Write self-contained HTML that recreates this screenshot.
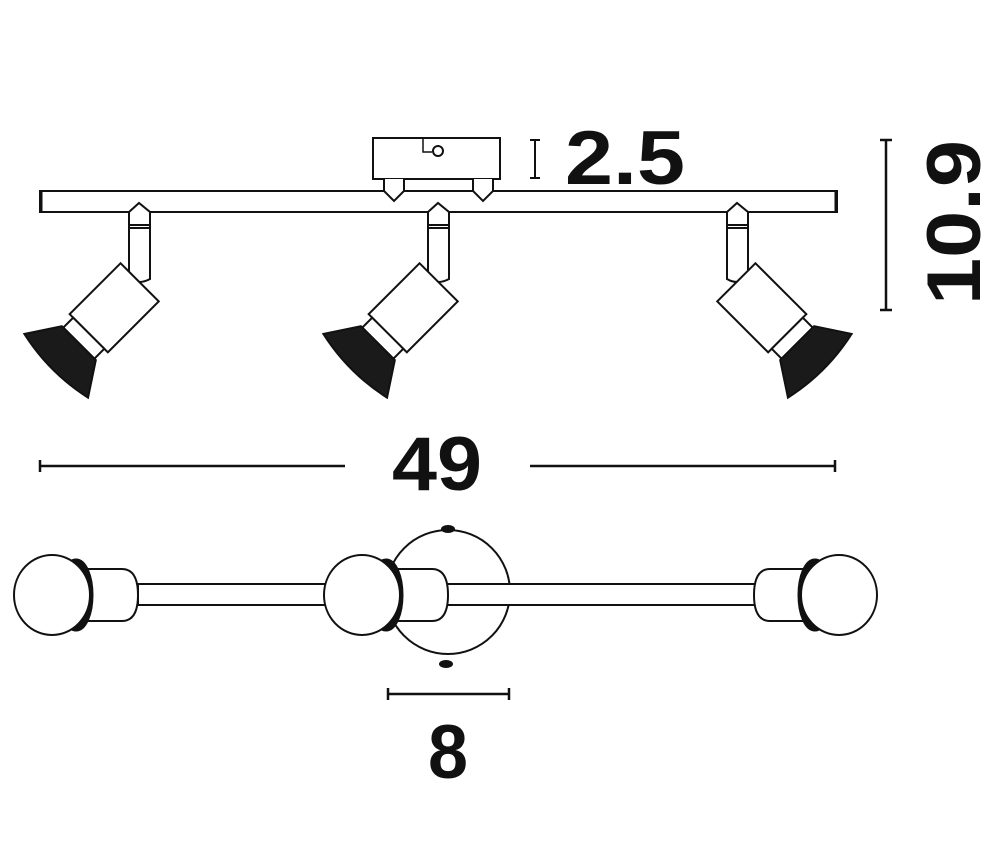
<!DOCTYPE html>
<html><head><meta charset="utf-8"><style>
html,body{margin:0;padding:0;background:#fff;}
svg{display:block;}
text{font-family:"Liberation Sans",Arial,sans-serif;font-weight:bold;fill:#111;}
</style></head><body>
<svg width="1000" height="855" viewBox="0 0 1000 855" xmlns="http://www.w3.org/2000/svg">
<defs>
<g id="spot" stroke="#111" stroke-width="2" fill="#fff">
  <rect x="-8" y="-27" width="72" height="54"/>
  <rect x="64" y="-22" width="14" height="44"/>
  <path d="M78,-24 L78,24 L110,45 Q120,0 110,-45 Z" fill="#1a1a1a"/>
</g>
<g id="stem" stroke="#111" stroke-width="2" fill="#fff">
  <path d="M0,11 L10,2 L21,11 L21,78 Q10,84 0,78 Z"/>
  <line x1="0" y1="24" x2="21" y2="24"/>
  <line x1="0" y1="27" x2="21" y2="27"/>
</g>
</defs>
<!-- top view -->
<rect x="373" y="138" width="127" height="41" fill="#fff" stroke="#111" stroke-width="2"/>
<circle cx="438" cy="151" r="5" fill="#fff" stroke="#111" stroke-width="2"/>
<path d="M423,138 V152 H432" fill="none" stroke="#111" stroke-width="1.5"/>
<rect x="40" y="191" width="797" height="21" fill="#fff" stroke="#111" stroke-width="2"/>
<line x1="41" y1="192" x2="41" y2="211" stroke="#111" stroke-width="3"/>
<line x1="836" y1="192" x2="836" y2="211" stroke="#111" stroke-width="3"/>
<path d="M384,179 V191 L394,201 L404,191 V179" fill="#fff" stroke="#111" stroke-width="2"/>
<path d="M473,179 V191 L483,201 L493,191 V179" fill="#fff" stroke="#111" stroke-width="2"/>
<use href="#stem" x="129" y="201"/>
<use href="#stem" x="428" y="201"/>
<use href="#stem" x="727" y="201"/>
<use href="#spot" transform="translate(134,288) rotate(135)"/>
<use href="#spot" transform="translate(433,288) rotate(135)"/>
<use href="#spot" transform="translate(742,288) rotate(45)"/>
<!-- 2.5 -->
<path d="M530,140 H540 M535,140 V178 M530,178 H540" stroke="#111" stroke-width="2" fill="none"/>
<text x="565" y="184" font-size="76" textLength="120" lengthAdjust="spacingAndGlyphs">2.5</text>
<!-- 10.9 -->
<path d="M880,140 H892 M886,140 V310 M880,310 H892" stroke="#111" stroke-width="2.5" fill="none"/>
<text x="0" y="0" font-size="76" textLength="165" lengthAdjust="spacingAndGlyphs" transform="translate(980,305) rotate(-90)">10.9</text>
<!-- 49 -->
<path d="M40,460 V472 M40,466 H345 M530,466 H835 M835,460 V472" stroke="#111" stroke-width="2.5" fill="none"/>
<text x="392" y="490" font-size="76" textLength="90" lengthAdjust="spacingAndGlyphs">49</text>
<!-- bottom view -->
<g stroke="#111" stroke-width="2" fill="#fff">
<circle cx="448" cy="592" r="62"/>
<ellipse cx="448" cy="529" rx="6" ry="3" fill="#111"/>
<ellipse cx="446" cy="664" rx="6" ry="3" fill="#111"/>
<rect x="138" y="584" width="618" height="21"/>
<path d="M70,569 H122 Q138,569 138,595 Q138,621 122,621 H70 Z"/>
<path d="M388,569 H432 Q448,569 448,595 Q448,621 432,621 H388 Z"/>
<path d="M822,569 H770 Q754,569 754,595 Q754,621 770,621 H822 Z"/>
<ellipse cx="76" cy="595" rx="14" ry="33" stroke-width="7" fill="none"/>
<ellipse cx="386" cy="595" rx="14" ry="33" stroke-width="7" fill="none"/>
<ellipse cx="815" cy="595" rx="14" ry="33" stroke-width="7" fill="none"/>
<ellipse cx="52" cy="595" rx="38" ry="40"/>
<ellipse cx="362" cy="595" rx="38" ry="40"/>
<ellipse cx="839" cy="595" rx="38" ry="40"/>
</g>
<!-- 8 -->
<path d="M388,688 V700 M388,694 H509 M509,688 V700" stroke="#111" stroke-width="2.5" fill="none"/>
<text x="428" y="778" font-size="76" textLength="40" lengthAdjust="spacingAndGlyphs">8</text>
</svg>
</body></html>
